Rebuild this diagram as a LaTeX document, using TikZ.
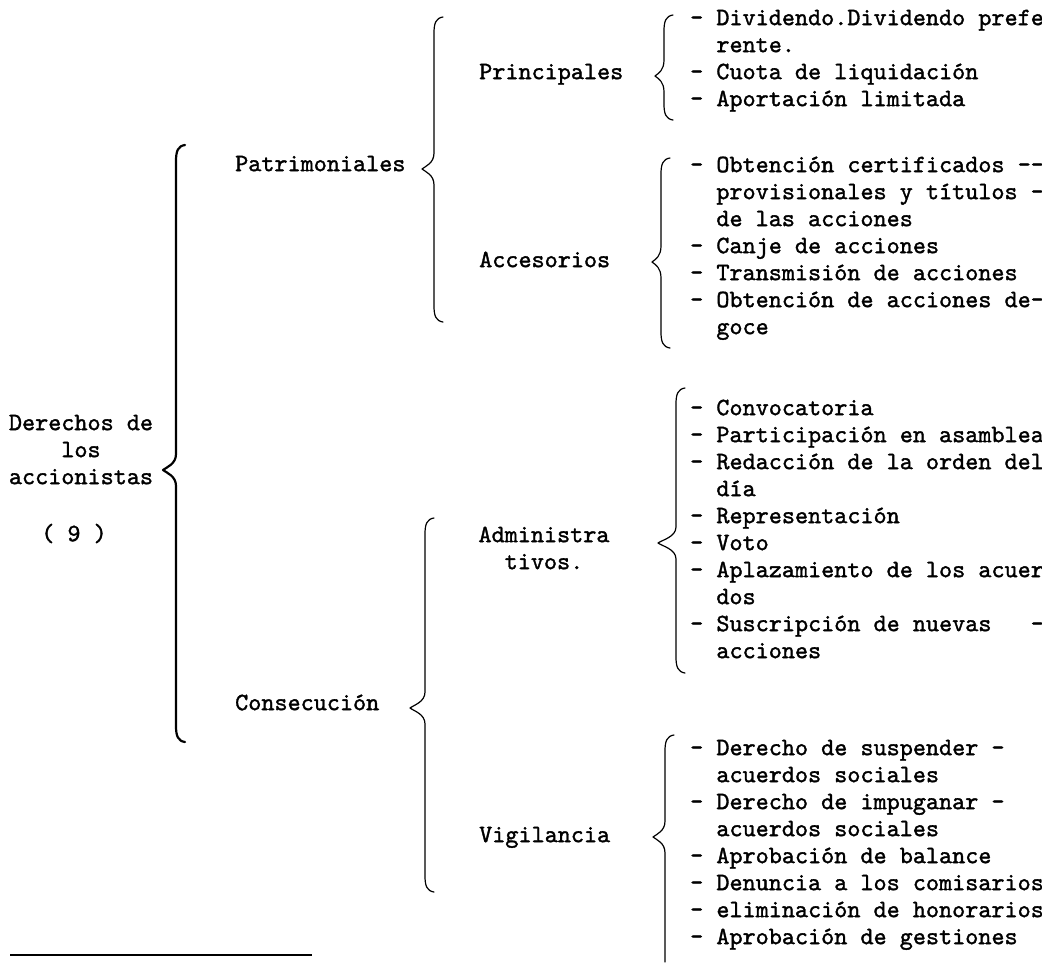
\documentclass[tikz,border=0pt]{standalone}
\usepackage{fontspec}
\newfontfamily\typewr{lmmono10-regular.otf}[FakeBold=1.4]
\tikzset{
  lbl/.style={font=\typewr\fontsize{24.95}{27}\selectfont, inner sep=0pt, anchor=mid west},
  clbl/.style={lbl, anchor=mid},
  brc/.style={line width=1.2pt, line cap=round, line join=round},
  bigbrc/.style={brc, line width=2.2pt},
  rulestyle/.style={line width=2pt},
}
\newcommand{\ind}{\hspace*{1.05em}}
% #1 style, #2 x of stem, #3 top y, #4 bottom y, #5 tip x, #6 tip y
\newcommand{\hbrace}[6][brc]{%
  \draw[#1] ({#2+9},{#3}) .. controls ({#2+2},{#3+1}) and ({#2},{#3+6}) .. ({#2},{#3+16})
    -- ({#2},{#6-16}) .. controls ({#2},{#6-6}) and ({#5+4},{#6-3}) .. ({#5},{#6})
    .. controls ({#5+4},{#6+3}) and ({#2},{#6+6}) .. ({#2},{#6+16})
    -- ({#2},{#4-16}) .. controls ({#2},{#4-6}) and ({#2+2},{#4-1}) .. ({#2+9},{#4});}
\begin{document}
\begin{tikzpicture}[x=1pt,y=-1pt]
\useasboundingbox (0,0) rectangle (1042,967);
\fill[white] (0,0) rectangle (1042,967);
% root label
\node[clbl] (d1) at (81,428) {Derechos de};
\node[clbl] (d2) at (81,455) {los};
\node[clbl] (d3) at (81,482) {accionistas};
\node[clbl] (d4) at (74,539) {( 9 )};
% second level
\node[lbl] (pat) at (235,169) {Patrimoniales};
\node[lbl] (con) at (235,708) {Consecución};
% third level
\node[lbl] (pri) at (479,77) {Principales};
\node[lbl] (acc) at (479,265) {Accesorios};
\node[clbl] (adm1) at (544,540) {Administra};
\node[clbl] (adm2) at (544,567) {tivos.};
\node[lbl] (vig) at (479,840) {Vigilancia};
% items
\foreach \t [count=\i from 0] in {- Dividendo.Dividendo prefe,\ind rente.,- Cuota de liquidación,- Aportación limitada}
  \node[lbl] (ga\i) at (690,{23+27*\i}) {\t};
\foreach \t [count=\i from 0] in {- Obtención certificados -{}-,\ind provisionales y títulos -,\ind de las acciones,- Canje de acciones,- Transmisión de acciones,- Obtención de acciones de-,\ind goce}
  \node[lbl] (gb\i) at (690,{170+27*\i}) {\t};
\foreach \t [count=\i from 0] in {- Convocatoria,- Participación en asamblea,- Redacción de la orden del,\ind día,- Representación,- Voto,- Aplazamiento de los acuer,\ind dos,- Suscripción de nuevas\ \ \ -,\ind acciones}
  \node[lbl] (gc\i) at (690,{413+27*\i}) {\t};
\foreach \t [count=\i from 0] in {- Derecho de suspender -,\ind acuerdos sociales,- Derecho de impuganar -,\ind acuerdos sociales,- Aprobación de balance,- Denuncia a los comisarios,- eliminación de honorarios,- Aprobación de gestiones}
  \node[lbl] (gd\i) at (690,{753+27*\i}) {\t};
% braces
\hbrace[bigbrc]{176}{145}{742}{163}{470}
\hbrace{434}{17}{322}{422}{169}
\hbrace{425}{518}{892}{410}{708}
\hbrace{664}{15}{120}{655}{76}
\hbrace{661}{158}{348}{652}{262}
\hbrace{676}{388}{673}{658}{543}
% Vigilancia brace: straight lower end
\draw[brc] (674,735) .. controls (667,736) and (665,741) .. (665,751)
  -- (665,821) .. controls (665,831) and (657,834) .. (653,837)
  .. controls (657,840) and (665,843) .. (665,853) -- (665,962);
% footnote rule
\coordinate (r1) at (10,955);
\coordinate (r2) at (312,955);
\draw[rulestyle] (r1) -- (r2);
\end{tikzpicture}
\end{document}
